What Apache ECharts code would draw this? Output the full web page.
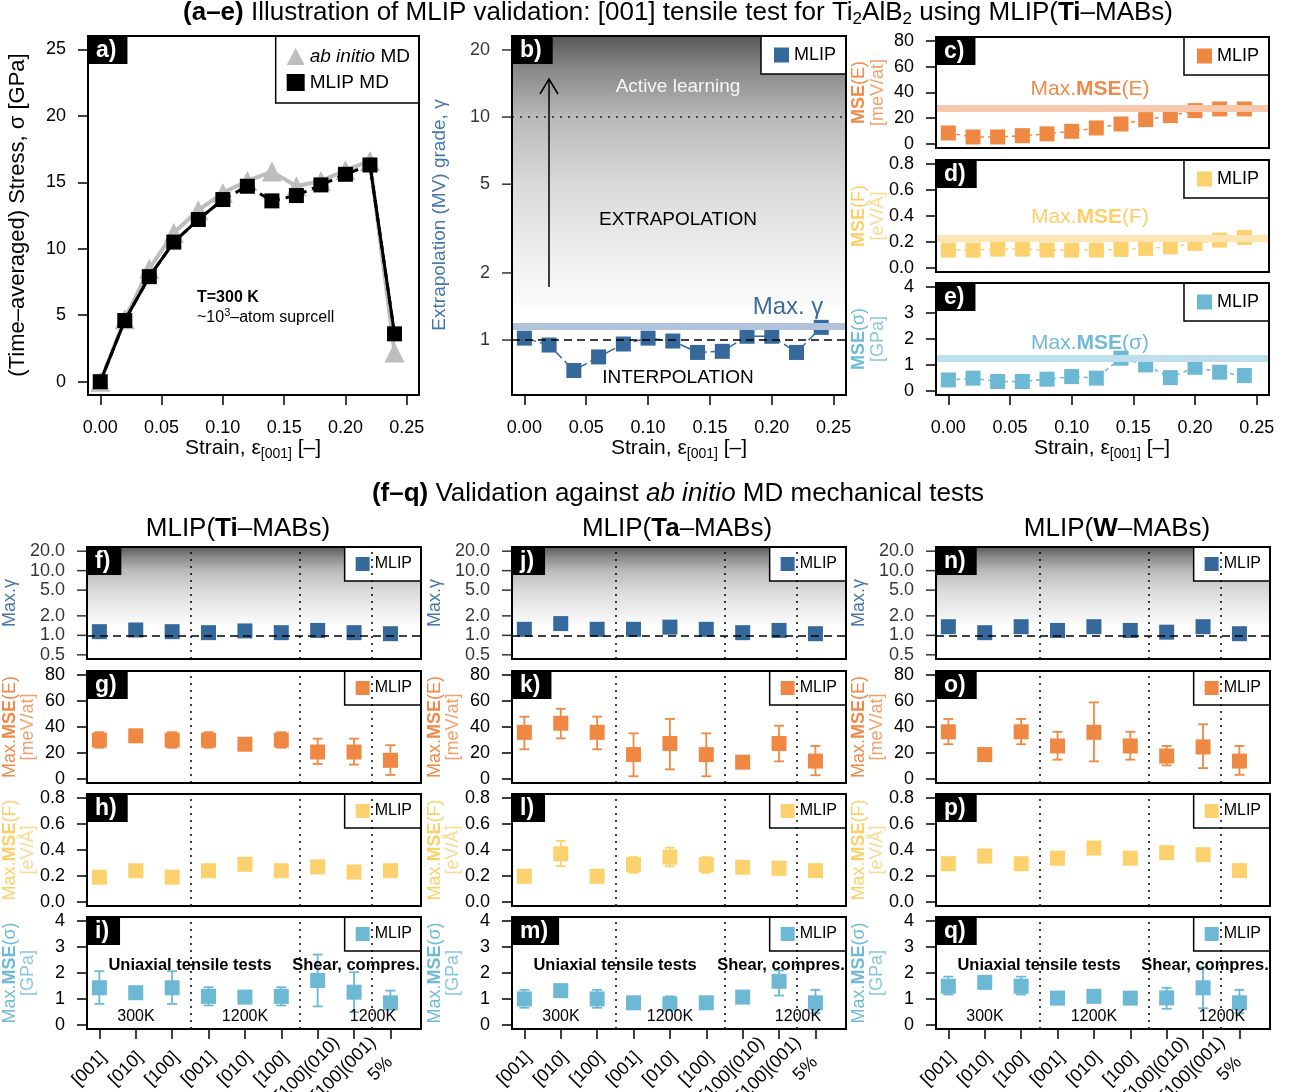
<!DOCTYPE html>
<html><head><meta charset="utf-8">
<script src="https://cdn.jsdelivr.net/npm/echarts@6/dist/echarts.min.js"></script>
<style>html,body{margin:0;padding:0;background:#fff}#c{width:1292px;height:1092px}</style>
</head><body><div id="c"></div>
<script>
// ================= DATA =================
const strain = [0.00,0.02,0.04,0.06,0.08,0.10,0.12,0.14,0.16,0.18,0.20,0.22,0.24];
const stressAbInitio = [0.0,4.7,8.5,11.2,12.9,14.2,15.1,15.8,14.7,15.1,15.9,16.6,2.2];
const stressMLIP = [0.0,4.6,7.9,10.5,12.2,13.7,14.7,13.6,14.0,14.8,15.6,16.3,3.6];
const gammaTensile = [1.02,0.95,0.73,0.84,0.96,1.02,0.99,0.88,0.89,1.04,1.04,0.88,1.14];
const mseETensile = [8.5,5.4,5.4,6.4,7.8,9.8,12.4,15.5,18.9,22.0,25.9,27.2,27.2];
const mseFTensile = [0.137,0.137,0.145,0.145,0.137,0.137,0.137,0.142,0.150,0.162,0.189,0.214,0.235];
const mseSTensile = [0.42,0.49,0.36,0.36,0.45,0.55,0.49,1.26,1.00,0.51,0.91,0.72,0.59];
const maxGamma = 1.15, maxMseE = 27.4, maxMseF = 0.235, maxMseS = 1.24;

const strainTicks = [0,0.05,0.10,0.15,0.20,0.25];
const stressTicks = [0,5,10,15,20,25];
const gammaTicksB = [1,2,5,10,20];
const gammaTicks = [0.5,1,2,5,10,20];
const eTicks = [0,20,40,60,80];
const fTicks = [0,0.2,0.4,0.6,0.8];
const sTicks = [0,1,2,3,4];

const tests = ['[001]','[010]','[100]','[001]','[010]','[100]','[100](010)','[100](001)','5%'];
const testPos = [1,2,3,4,5,6,7,8,9];
const groupBounds = [3.5,6.5,8.5];

// Ti-MABs
const tiGamma = [1.14,1.21,1.14,1.10,1.17,1.10,1.19,1.10,1.06];
const tiE   = [29.9,33.2,29.9,29.9,26.7,29.9,20.7,20.7,14.3];
const tiELo = [24,null,24,24,null,24,11.5,11,3];
const tiEHi = [36,null,36,36,null,36,31,31,26];
const tiF   = [0.19,0.24,0.19,0.24,0.29,0.24,0.27,0.23,0.24];
const tiFLo = [null,null,null,null,null,null,null,null,null];
const tiFHi = [null,null,null,null,null,null,null,null,null];
const tiS   = [1.43,1.24,1.43,1.10,1.07,1.10,1.71,1.26,0.85];
const tiSLo = [0.81,null,0.81,0.75,null,0.75,0.71,0.49,0.59];
const tiSHi = [2.07,null,2.07,1.45,null,1.45,2.71,2.03,1.32];
// Ta-MABs
const taGamma = [1.24,1.52,1.24,1.24,1.34,1.24,1.10,1.19,1.06];
const taE   = [35.9,42.9,35.9,18.7,27.3,18.7,12.9,27.3,13.7];
const taELo = [22.8,31.2,22.8,2.0,7.3,2.0,null,13.5,2.8];
const taEHi = [48.0,54.0,48.0,35.1,46.2,35.1,null,41.0,25.4];
const taF   = [0.197,0.371,0.197,0.286,0.345,0.286,0.267,0.259,0.241];
const taFLo = [null,0.275,null,0.224,0.275,0.224,null,null,null];
const taFHi = [null,0.470,null,0.345,0.418,0.345,null,null,null];
const taS   = [1.00,1.32,1.00,0.85,0.81,0.85,1.07,1.68,0.85];
const taSLo = [0.66,null,0.66,null,0.70,null,null,1.13,0.45];
const taSHi = [1.35,null,1.35,null,1.10,null,null,2.10,1.35];
// W-MABs
const wGamma = [1.36,1.10,1.36,1.19,1.36,1.19,1.12,1.36,1.06];
const wE   = [36.3,18.7,36.3,25.4,35.9,25.4,17.6,24.6,13.7];
const wELo = [26.7,null,26.7,14.8,13.5,14.8,10.4,8.3,3.1];
const wEHi = [46.2,null,46.2,36.3,59.0,36.3,25.4,42.1,25.4];
const wF   = [0.294,0.353,0.294,0.337,0.415,0.337,0.379,0.364,0.241];
const wFLo = [null,null,null,null,null,null,null,null,null];
const wFHi = [null,null,null,null,null,null,null,null,null];
const wS   = [1.49,1.64,1.49,1.03,1.10,1.03,1.04,1.43,0.85];
const wSLo = [1.17,null,1.17,null,null,null,0.62,0.64,0.45];
const wSHi = [1.86,null,1.86,null,null,null,1.43,2.22,1.35];

// ================= STYLE / LAYOUT =================
const FONT = "'Liberation Sans', Arial, Helvetica, sans-serif";
const C_BLUE='#35689b', C_ORANGE='#ee8843', C_YELLOW='#fdd16d', C_LBLUE='#6cb8d5';
const T_BLUE='#4677a9', T_ORANGE='#ef8a4b', T_ORANGE2='#f2a06c', T_YELLOW='#fdcf69', T_YELLOW2='#fdd98f', T_LBLUE='#6fbad6', T_LBLUE2='#8ac8df';
const gradStops = [{offset:0,color:'#595959'},{offset:0.12,color:'#878787'},{offset:0.3,color:'#b9b9b9'},{offset:0.55,color:'#d9d9d9'},{offset:0.85,color:'#f1f1f1'},{offset:1,color:'#fbfbfb'}];
const gradStart = 1.43;

const R_A=[88,36,331,359], R_B=[512,36,334,359], R_C=[936,37,333,111], R_D=[936,160,333,112], R_E=[936,283,333,112];
const colLeft=[87,512,936], colW=334, rowTop=[547,671,794,917], rowH=112;
const XS=[-0.01,0.26], XB=[0.66,9.84];

const grids=[], xAxes=[], yAxes=[], series=[], legends=[], graphics=[];

function addPanel(rect, xc, yc){
  const gi=grids.length;
  grids.push({left:rect[0],top:rect[1],width:rect[2],height:rect[3],containLabel:false,outerBoundsMode:'none',show:false});
  const xa={gridIndex:gi,type:'value',position:'bottom',min:xc.min,max:xc.max,axisLine:{show:false,onZero:false},splitLine:{show:false}};
  if(xc.ticks){
    xa.axisTick={show:true,length:10,lineStyle:{color:'#000',width:1.5},customValues:xc.ticks};
    xa.axisLabel={show:true,customValues:xc.ticks,formatter:xc.fmt,margin:xc.margin||24,rotate:xc.rotate||0,fontSize:18,color:'#000',fontFamily:FONT};
    if(xc.rotate){xa.axisLabel.align='center';xa.axisLabel.verticalAlign='middle';xa.axisLabel.rich={sp:{width:28,fontSize:18}};}
  } else { xa.axisTick={show:false}; xa.axisLabel={show:false}; }
  xAxes.push(xa);
  const ya={gridIndex:gi,type:yc.log?'log':'value',position:'left',min:yc.min,max:yc.max,axisLine:{show:false,onZero:false},splitLine:{show:false}};
  if(yc.log){
    ya.logBase=10; ya.axisTick={show:false}; ya.axisLabel={show:false}; ya.minorTick={show:false};
  } else {
    ya.axisTick={show:true,length:10,lineStyle:{color:'#000',width:1.5},customValues:yc.ticks};
    ya.axisLabel={show:true,customValues:yc.ticks,formatter:yc.fmt,margin:22,fontSize:18,color:'#000',fontFamily:FONT};
  }
  yAxes.push(ya);
  if(yc.log){
    series.push({type:'scatter',name:'_ticks',xAxisIndex:gi,yAxisIndex:gi,silent:true,clip:false,
      symbol:'rect',symbolSize:[10,1.5],symbolOffset:[-5,0],itemStyle:{color:'#000'},
      data:yc.ticks.map(v=>[xc.min,v]),
      label:{show:true,position:'left',distance:12,formatter:p=>yc.fmt(p.value[1]),fontSize:18,color:'#000',fontFamily:FONT},z:5});
  }
  graphics.push({type:'rect',shape:{x:rect[0],y:rect[1],width:rect[2],height:rect[3]},style:{fill:null,stroke:'#000',lineWidth:2},z:50,silent:true});
  return gi;
}
function panelLabel(txt, rect){
  graphics.push({type:'text',x:rect[0]+1,y:rect[1]+1,z:60,silent:true,
    style:{text:txt,fill:'#fff',fontSize:23,fontWeight:'bold',fontFamily:FONT,backgroundColor:'#000',padding:[2,11,1,7],lineHeight:24,align:'left',verticalAlign:'top'}});
}
function htext(text,x,y,size,color,extra){
  graphics.push({type:'text',x,y,z:40,silent:true,style:Object.assign({text,fill:color,fontSize:size,fontFamily:FONT,align:'center',verticalAlign:'middle'},extra||{})});
}
function vtext(text,x,y,size,color,extra){
  graphics.push({type:'text',x,y,rotation:Math.PI/2,z:40,silent:true,style:Object.assign({text,fill:color,fontSize:size,fontFamily:FONT,align:'center',verticalAlign:'middle'},extra||{})});
}
function richB(size,color){return {b:{fontWeight:'bold',fontSize:size,fill:color,fontFamily:FONT}};}
function addLegend(rightEdge, top, color, big){
  legends.push({show:true,selectedMode:false,orient:'vertical',right:1292-rightEdge,top:top,
    backgroundColor:'#fff',borderColor:'#000',borderWidth:1.5,borderRadius:0,
    padding:big?[10,10,10,13]:[9,9,9,11],itemWidth:big?15:14,itemHeight:big?15:14,
    textStyle:{fontSize:big?18:16,color:'#000',fontFamily:FONT},
    data:[{name:'MLIP',icon:'rect',itemStyle:{color:color}}]});
}
function lineBg(gi, marks){
  return {type:'line',name:'_bg',xAxisIndex:gi,yAxisIndex:gi,silent:true,symbol:'none',
    data:[],lineStyle:{opacity:0},z:1,
    markLine:{silent:true,symbol:['none','none'],label:{show:false},animation:false,data:marks}};
}
function gradBg(gi, top){
  return {type:'line',name:'_grad',xAxisIndex:gi,yAxisIndex:gi,silent:true,symbol:'none',data:[],lineStyle:{opacity:0},z:0,
    markArea:{silent:true,label:{show:false},
      itemStyle:{color:{type:'linear',x:0,y:0,x2:0,y2:1,colorStops:gradStops}},
      data:[[{yAxis:gradStart},{yAxis:top}]]}};
}
function errSeries(gi, lo, hi, color){
  const data=[]; testPos.forEach((x,i)=>{ if(lo[i]!=null) data.push([x,lo[i],hi[i]]); });
  return {type:'custom',name:'_err',xAxisIndex:gi,yAxisIndex:gi,silent:true,z:2,data,
    renderItem:(params,api)=>{
      const x=api.value(0), a=api.coord([x,api.value(1)]), b=api.coord([x,api.value(2)]);
      const w=5, st={stroke:color,lineWidth:1.8};
      return {type:'group',children:[
        {type:'line',shape:{x1:a[0],y1:a[1],x2:b[0],y2:b[1]},style:st},
        {type:'line',shape:{x1:a[0]-w,y1:a[1],x2:a[0]+w,y2:a[1]},style:st},
        {type:'line',shape:{x1:b[0]-w,y1:b[1],x2:b[0]+w,y2:b[1]},style:st}]};
    }};
}
const subRich={s:{fontSize:14,verticalAlign:'bottom',lineHeight:14,fill:'#000',fontFamily:FONT}};

// ================= PANEL a =================
{
  const gi=addPanel(R_A,{min:XS[0],max:XS[1],ticks:strainTicks,fmt:v=>Number(v).toFixed(2)},{min:-1,max:26,ticks:stressTicks,fmt:v=>String(v)});
  series.push({type:'line',name:'ab initio MD',xAxisIndex:gi,yAxisIndex:gi,z:1,
    data:strain.map((x,i)=>[x,stressAbInitio[i]]),symbol:'triangle',symbolSize:20,
    itemStyle:{color:'#bdbdbd'},lineStyle:{color:'#bdbdbd',width:4}});
  series.push({type:'line',name:'_mlipSolid',xAxisIndex:gi,yAxisIndex:gi,z:2,symbol:'none',
    data:strain.map((x,i)=>[x,(i<=5||i>=11)?stressMLIP[i]:'-']),lineStyle:{color:'#000',width:3}});
  series.push({type:'line',name:'MLIP MD',xAxisIndex:gi,yAxisIndex:gi,z:3,
    data:strain.map((x,i)=>[x,stressMLIP[i]]),symbol:'rect',symbolSize:15,
    itemStyle:{color:'#000'},lineStyle:{color:'#000',width:3,type:[8,6]}});
  legends.push({show:true,selectedMode:false,orient:'vertical',right:1292-419,top:36,
    backgroundColor:'#fff',borderColor:'#000',borderWidth:1.5,borderRadius:0,
    padding:[11,9,11,11],itemGap:7,itemWidth:18,itemHeight:17,
    textStyle:{fontSize:19,color:'#000',fontFamily:FONT,rich:{i:{fontStyle:'italic',fontSize:19,color:'#000',fontFamily:FONT}}},
    formatter:n=>n==='ab initio MD'?'{i|ab initio} MD':n,
    data:[{name:'ab initio MD',icon:'triangle',itemStyle:{color:'#bdbdbd'}},{name:'MLIP MD',icon:'rect',itemStyle:{color:'#000'}}]});
  panelLabel('a)',R_A);
  vtext('(Time–averaged) Stress, σ [GPa]',18,215,22,'#000');
  htext('T=300 K',197,298,16,'#000',{align:'left',fontWeight:'bold'});
  htext('~10{p|3}–atom suprcell',197,318,16,'#000',{align:'left',lineHeight:22,rich:{p:{fontSize:11,verticalAlign:'top',lineHeight:22,fill:'#000',fontFamily:FONT}}});
  htext('Strain, ε{s|[001]} [–]',253,448,21,'#000',{lineHeight:26,rich:subRich});
}
// ================= PANEL b =================
{
  const gi=addPanel(R_B,{min:XS[0],max:XS[1],ticks:strainTicks,fmt:v=>Number(v).toFixed(2)},{log:true,min:0.567,max:23.1,ticks:gammaTicksB,fmt:v=>String(v)});
  series.push(gradBg(gi,23.1));
  series.push(lineBg(gi,[
    {yAxis:maxGamma,lineStyle:{color:'#b0c3da',width:7,type:'solid'}},
    {yAxis:10,lineStyle:{color:'#222',width:1.5,type:[2,6]}},
    {yAxis:1,lineStyle:{color:'#000',width:1.5,type:[8,5]}}]));
  series.push({type:'line',name:'MLIP',xAxisIndex:gi,yAxisIndex:gi,z:3,
    data:strain.map((x,i)=>[x,gammaTensile[i]]),symbol:'rect',symbolSize:15,
    itemStyle:{color:C_BLUE},lineStyle:{color:C_BLUE,width:1.5,type:[12,4]}});
  addLegend(846,36,C_BLUE,true);
  panelLabel('b)',R_B);
  vtext('Extrapolation (MV) grade, γ',440,215,19,T_BLUE);
  htext('Active learning',678,87,19,'#f6f6f6');
  htext('EXTRAPOLATION',678,220,19,'#000');
  htext('INTERPOLATION',678,378,19,'#000');
  htext('Max. γ',788,307,24,'#3d6c9c');
  graphics.push({type:'line',shape:{x1:549,y1:287,x2:549,y2:80},style:{stroke:'#000',lineWidth:1.5},z:40,silent:true});
  graphics.push({type:'polyline',shape:{points:[[540,94],[549,79],[558,94]]},style:{stroke:'#000',lineWidth:1.5,fill:null},z:40,silent:true});
  htext('Strain, ε{s|[001]} [–]',679,448,21,'#000',{lineHeight:26,rich:subRich});
}
// ================= PANELS c, d, e =================
{
  const cfg=[
    {rect:R_C,min:-3.2,max:83.2,ticks:eTicks,fmt:v=>String(v),vals:mseETensile,max_:maxMseE,col:C_ORANGE,band:'#f7c8ab',lab:'c)',
     t1:'{b|MSE}(E)',t2:'[meV/at]',tc:T_ORANGE,tc2:T_ORANGE2,mx:'Max.{b|MSE}(E)',my:89},
    {rect:R_D,min:-0.032,max:0.832,ticks:fTicks,fmt:v=>Number(v).toFixed(1),vals:mseFTensile,max_:maxMseF,col:C_YELLOW,band:'#fde5b4',lab:'d)',
     t1:'{b|MSE}(F)',t2:'[eV/Å]',tc:T_YELLOW,tc2:T_YELLOW2,mx:'Max.{b|MSE}(F)',my:217},
    {rect:R_E,min:-0.16,max:4.16,ticks:sTicks,fmt:v=>String(v),vals:mseSTensile,max_:maxMseS,col:C_LBLUE,band:'#bddfeb',lab:'e)',
     t1:'{b|MSE}(σ)',t2:'[GPa]',tc:T_LBLUE,tc2:T_LBLUE2,mx:'Max.{b|MSE}(σ)',my:343}];
  cfg.forEach((c,k)=>{
    const gi=addPanel(c.rect,{min:XS[0],max:XS[1],ticks:k===2?strainTicks:null,fmt:v=>Number(v).toFixed(2)},{min:c.min,max:c.max,ticks:c.ticks,fmt:c.fmt});
    series.push(lineBg(gi,[{yAxis:c.max_,lineStyle:{color:c.band,width:7,type:'solid'}}]));
    series.push({type:'line',name:'MLIP',xAxisIndex:gi,yAxisIndex:gi,z:3,
      data:strain.map((x,i)=>[x,c.vals[i]]),symbol:'rect',symbolSize:15,
      itemStyle:{color:c.col},lineStyle:{color:c.col,width:1.5,type:[4,4]}});
    addLegend(1269,c.rect[1],c.col,true);
    panelLabel(c.lab,c.rect);
    const cy=c.rect[1]+c.rect[3]/2;
    vtext(c.t1,859,cy,18,c.tc,{rich:richB(18,c.tc)});
    vtext(c.t2,878,cy,18,c.tc2);
    htext(c.mx,1090,c.my,21,c.tc,{rich:richB(21,c.tc)});
  });
  htext('Strain, ε{s|[001]} [–]',1102,448,21,'#000',{lineHeight:26,rich:subRich});
}
// ================= BOTTOM PANELS f–q =================
{
  const cols=[
    {g:tiGamma,E:tiE,ELo:tiELo,EHi:tiEHi,F:tiF,FLo:tiFLo,FHi:tiFHi,S:tiS,SLo:tiSLo,SHi:tiSHi,labs:['f)','g)','h)','i)'],title:'MLIP({b|Ti}–MABs)',tx:238},
    {g:taGamma,E:taE,ELo:taELo,EHi:taEHi,F:taF,FLo:taFLo,FHi:taFHi,S:taS,SLo:taSLo,SHi:taSHi,labs:['j)','k)','l)','m)'],title:'MLIP({b|Ta}–MABs)',tx:677},
    {g:wGamma,E:wE,ELo:wELo,EHi:wEHi,F:wF,FLo:wFLo,FHi:wFHi,S:wS,SLo:wSLo,SHi:wSHi,labs:['n)','o)','p)','q)'],title:'MLIP({b|W}–MABs)',tx:1117}];
  const rows=[
    {log:true,min:0.431,max:23.2,ticks:gammaTicks,fmt:v=>Number(v).toFixed(1),color:C_BLUE},
    {min:-3.2,max:83.2,ticks:eTicks,fmt:v=>String(v),color:C_ORANGE},
    {min:-0.032,max:0.832,ticks:fTicks,fmt:v=>Number(v).toFixed(1),color:C_YELLOW},
    {min:-0.16,max:4.16,ticks:sTicks,fmt:v=>String(v),color:C_LBLUE}];
  const vlines=groupBounds.map(v=>({xAxis:v,lineStyle:{color:'#000',width:1.5,type:[2,5]}}));
  cols.forEach((c,ci)=>{
    const L=colLeft[ci], dx=L-colLeft[0];
    const vals=[c.g,c.E,c.F,c.S], los=[null,c.ELo,c.FLo,c.SLo], his=[null,c.EHi,c.FHi,c.SHi];
    rows.forEach((r,ri)=>{
      const rect=[L,rowTop[ri],colW,rowH];
      const xc={min:XB[0],max:XB[1]};
      if(ri===3){xc.ticks=testPos;xc.fmt=v=>tests[Math.round(v)-1]+'{sp| }';xc.rotate=45;xc.margin=30;}
      const gi=addPanel(rect,xc,r);
      if(ri===0){
        series.push(gradBg(gi,23.2));
        series.push(lineBg(gi,vlines.concat([{yAxis:1,lineStyle:{color:'#000',width:1.5,type:[8,5]}}])));
      } else {
        series.push(lineBg(gi,vlines));
        series.push(errSeries(gi,los[ri],his[ri],r.color));
      }
      series.push({type:'scatter',name:'MLIP',xAxisIndex:gi,yAxisIndex:gi,z:3,
        data:testPos.map((x,i)=>[x,vals[ri][i]]),symbol:'rect',symbolSize:15,itemStyle:{color:r.color,opacity:1}});
      addLegend(L+colW,rowTop[ri],r.color,false);
      panelLabel(c.labs[ri],rect);
    });
    htext(c.title,c.tx,529,26,'#000',{rich:richB(26,'#000')});
    const xt1=10+dx, xt2=28+dx;
    vtext('Max.γ',xt1,rowTop[0]+rowH/2,18,T_BLUE);
    vtext('Max.{b|MSE}(E)',xt1,rowTop[1]+rowH/2,18,T_ORANGE,{rich:richB(18,T_ORANGE)});
    vtext('[meV/at]',xt2,rowTop[1]+rowH/2,18,T_ORANGE2);
    vtext('Max.{b|MSE}(F)',xt1,rowTop[2]+rowH/2,18,T_YELLOW,{rich:richB(18,T_YELLOW)});
    vtext('[eV/Å]',xt2,rowTop[2]+rowH/2,18,T_YELLOW2);
    vtext('Max.{b|MSE}(σ)',xt1,rowTop[3]+rowH/2,18,T_LBLUE,{rich:richB(18,T_LBLUE)});
    vtext('[GPa]',xt2,rowTop[3]+rowH/2,18,T_LBLUE2);
    htext('Uniaxial tensile tests',190+dx,965,16.5,'#000',{fontWeight:'bold'});
    htext('Shear, compres.',356+dx,965,16.5,'#000',{fontWeight:'bold'});
    htext('300K',136+dx,1017,16,'#000');
    htext('1200K',245+dx,1017,16,'#000');
    htext('1200K',373+dx,1017,16,'#000');
  });
}
// ================= TITLES =================
htext('{b|(a–e)} Illustration of MLIP validation: [001] tensile test for Ti{s|2}AlB{s|2} using MLIP({b|Ti}–MABs)',678,13,26,'#000',
  {lineHeight:30,rich:{b:{fontWeight:'bold',fontSize:26,fill:'#000',fontFamily:FONT,lineHeight:30},s:{fontSize:17,verticalAlign:'bottom',lineHeight:17,fill:'#000',fontFamily:FONT}}});
htext('{b|(f–q)} Validation against {i|ab initio} MD mechanical tests',678,494,26,'#000',
  {rich:{b:{fontWeight:'bold',fontSize:26,fill:'#000',fontFamily:FONT},i:{fontStyle:'italic',fontSize:26,fill:'#000',fontFamily:FONT}}});

const chart=echarts.init(document.getElementById('c'),null,{renderer:'canvas'});
chart.setOption({animation:false,backgroundColor:'#fff',textStyle:{fontFamily:FONT},
  grid:grids,xAxis:xAxes,yAxis:yAxes,series:series,legend:legends,graphic:{elements:graphics}});
</script></body></html>
